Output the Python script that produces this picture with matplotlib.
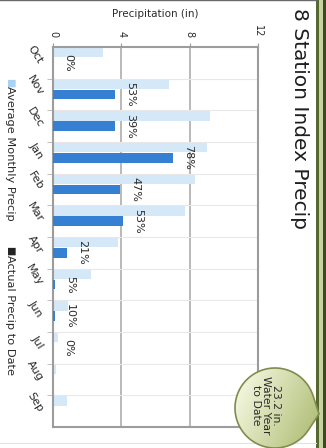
import numpy as np
import matplotlib.pyplot as plt
from matplotlib.path import Path
from matplotlib.patches import PathPatch, Rectangle

months = ['Oct', 'Nov', 'Dec', 'Jan', 'Feb', 'Mar', 'Apr', 'May', 'Jun', 'Jul', 'Aug', 'Sep']
avg_precip = [2.9, 6.8, 9.2, 9.0, 8.3, 7.7, 3.8, 2.2, 0.9, 0.3, 0.2, 0.8]
actual_precip = [0.0, 3.6, 3.6, 7.0, 3.9, 4.1, 0.8, 0.1, 0.09, 0.0, None, None]
x_ticks = [0, 4, 8, 12]

LIGHT = '#d5e8f8'
DARK = '#3580d2'
TEXT = '#2b2b2b'
W, H = 326, 448

plt.rcParams['font.family'] = ['DejaVu Sans']
fig = plt.figure(figsize=(W / 100, H / 100), dpi=100)
fig.patch.set_facecolor('white')

# chart is laid out sideways: months run down, precipitation runs right
ax = fig.add_axes([53 / W, 1 - 427 / H, (258 - 53) / W, (427 - 47) / H])
idx = np.arange(len(months))
ax.barh(idx - 0.32, avg_precip, height=0.3, color=LIGHT, zorder=2)
has_actual = [a is not None for a in actual_precip]
act_idx = idx[has_actual]
act_vals = [a for a in actual_precip if a is not None]
ax.barh(act_idx, act_vals, height=0.3, color=DARK, zorder=3)

for i, a in zip(act_idx, act_vals):
    pct = a / avg_precip[i] * 100
    ax.text(a + 0.9, i, f'{pct:.0f}%', rotation=-90, ha='center', va='center',
            fontsize=8, color=TEXT, zorder=4)

ax.set_xlim(0, 12)
ax.set_ylim(len(months) - 0.5, -0.5)

ax.xaxis.tick_top()
ax.xaxis.set_label_position('top')
ax.set_xticks(x_ticks)
ax.set_xticklabels([str(t) for t in x_ticks], rotation=-90, fontsize=7, color=TEXT)
ax.tick_params(axis='x', length=3, color='#9a9a9a', pad=4)
ax.set_xlabel('Precipitation (in)', fontsize=7.5, color=TEXT, labelpad=6)

ax.set_yticks(idx)
ax.set_yticklabels(months, rotation=-58, ha='right', va='center',
                   rotation_mode='anchor', fontsize=8, color=TEXT)
ax.tick_params(axis='y', length=0, pad=9)
ax.set_yticks(idx[:-1] + 0.5, minor=True)
ax.tick_params(axis='y', which='minor', length=4, color='#b5b5b5')

for v in x_ticks[1:-1]:
    ax.axvline(v, color='#b3b3b3', lw=1.3, zorder=1)
for b in idx[:-1] + 0.5:
    ax.axhline(b, color='#e8e8e8', lw=0.8, zorder=1)
for s in ax.spines.values():
    s.set_color('#9c9c9c')
    s.set_linewidth(1.5)

# legend, written sideways along the left edge
fig.text(10 / W, 1 - 78 / H, '\u25A0', rotation=-90, ha='center', va='top',
         fontsize=7, color='#a9d2f2')
fig.text(10 / W, 1 - 86 / H, 'Average Monthly Precip', rotation=-90,
         ha='center', va='top', fontsize=8.2, color=TEXT)
fig.text(10 / W, 1 - 246 / H, '\u25A0', rotation=-90, ha='center', va='top',
         fontsize=7, color='#222222')
fig.text(10 / W, 1 - 255 / H, 'Actual Precip to Date', rotation=-90,
         ha='center', va='top', fontsize=8.2, color=TEXT)

fig.text(300 / W, 1 - 8 / H, '8 Station Index Precip', rotation=-90,
         ha='center', va='top', fontsize=14.5, color='#1e1e1e')

# overlay in pixel units for the frame and the raindrop badge
ov = fig.add_axes([0, 0, 1, 1], zorder=5)
ov.set_xlim(0, W)
ov.set_ylim(H, 0)
ov.axis('off')

ov.add_patch(Rectangle((316, 0), 10, H, color='#c9d3a2', lw=0))
ov.add_patch(Rectangle((316, 0), 2.5, H, color='#56672f', lw=0))
ov.add_patch(Rectangle((322.5, 0), 3.5, H, color='#3d4a22', lw=0))
ov.plot([0, 316], [0.5, 0.5], color='#6a6a6a', lw=1)
ov.plot([0, 316], [443, 443], color='#e2e2e2', lw=0.8)

cx, cy, r = 275.0, 408.0, 40.0
px, py = 319.0, 414.0
theta = np.arctan2(py - cy, px - cx)
alpha = np.arccos(r / np.hypot(px - cx, py - cy))
arc = np.linspace(theta + alpha, theta + 2 * np.pi - alpha, 80)
verts = [(px, py)] + [(cx + r * np.cos(t), cy + r * np.sin(t)) for t in arc] + [(px, py)]
codes = [Path.MOVETO] + [Path.LINETO] * (len(verts) - 2) + [Path.CLOSEPOLY]
drop = PathPatch(Path(verts, codes), facecolor='none', edgecolor='#7f8c4c', lw=1.2, zorder=7)
ov.add_patch(drop)

gx, gy = np.meshgrid(np.linspace(0, 1, 60), np.linspace(0, 1, 60))
t = np.clip(0.75 * gx + 0.35 * gy - 0.1, 0, 1)[..., None]
c0 = np.array([0.96, 0.97, 0.88])
c1 = np.array([0.66, 0.72, 0.42])
grad = c0 * (1 - t) + c1 * t
img = ov.imshow(grad, extent=(cx - r, px + 1, cy + r + 1, cy - r - 1), origin='upper',
                aspect='auto', zorder=6, interpolation='bilinear')
img.set_clip_path(drop)
ov.set_xlim(0, W)
ov.set_ylim(H, 0)

total = sum(act_vals)
ov.text(266, 405, f'{total:.1f} in.\nWater Year\nto Date', rotation=-90,
        ha='center', va='center', multialignment='center', fontsize=7.8,
        color=TEXT, linespacing=1.05, zorder=8)

fig.savefig('out.png', dpi=100)
